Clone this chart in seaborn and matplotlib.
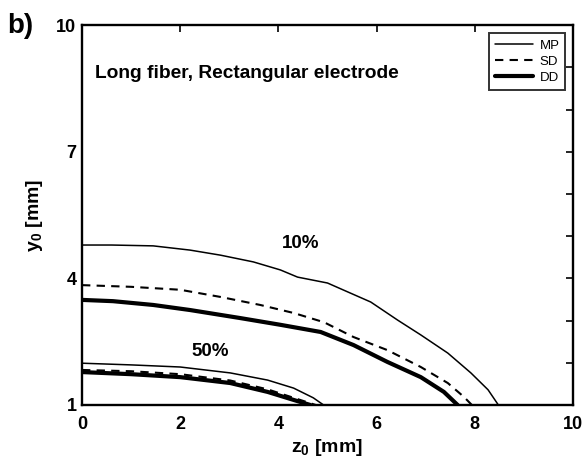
import matplotlib
matplotlib.use("Agg")
import matplotlib.pyplot as plt
import seaborn as sns
import pandas as pd

# 10% iso-contour
mp10_z = [0, 0.6, 1.45, 2.20, 2.82, 3.49, 4.04, 4.39, 5.0, 5.41, 5.88, 6.43, 6.90, 7.45, 7.92, 8.27, 8.48]
mp10_y = [4.79, 4.79, 4.77, 4.67, 4.55, 4.39, 4.20, 4.03, 3.89, 3.68, 3.44, 3.01, 2.66, 2.23, 1.76, 1.36, 1.0]
sd10_z = [0, 1.0, 2.0, 2.82, 3.63, 4.31, 4.93, 5.53, 6.22, 6.90, 7.45, 7.78, 7.94]
sd10_y = [3.84, 3.80, 3.73, 3.56, 3.37, 3.18, 2.96, 2.61, 2.30, 1.90, 1.52, 1.19, 1.0]
dd10_z = [0, 0.63, 1.45, 2.20, 3.22, 4.04, 4.86, 5.53, 6.22, 6.90, 7.37, 7.65]
dd10_y = [3.49, 3.46, 3.37, 3.25, 3.06, 2.90, 2.73, 2.42, 2.02, 1.66, 1.31, 1.0]
# 50% iso-contour
mp50_z = [0, 1.0, 2.0, 3.02, 3.78, 4.31, 4.71, 4.92]
mp50_y = [1.99, 1.95, 1.90, 1.76, 1.59, 1.40, 1.17, 1.0]
sd50_z = [0, 1.0, 2.0, 3.02, 3.78, 4.31, 4.76]
sd50_y = [1.83, 1.80, 1.73, 1.58, 1.37, 1.17, 1.0]
dd50_z = [0, 1.0, 2.0, 3.02, 3.78, 4.31, 4.65]
dd50_y = [1.78, 1.73, 1.66, 1.52, 1.31, 1.12, 1.0]

x_ticks = [0, 2, 4, 6, 8, 10]
y_ticks = [1, 4, 7, 10]

sns.set_style("white")
plt.rcParams['font.family'] = ['Liberation Sans', 'DejaVu Sans']
plt.rcParams['font.weight'] = 'bold'
plt.rcParams['mathtext.fontset'] = 'custom'
plt.rcParams['mathtext.rm'] = 'Liberation Sans:bold'
plt.rcParams['mathtext.bf'] = 'Liberation Sans:bold'
for k in ['text.color', 'axes.labelcolor', 'xtick.color', 'ytick.color', 'axes.edgecolor']:
    plt.rcParams[k] = 'black'

fig = plt.figure(figsize=(5.88, 4.57), dpi=100)
ax = fig.add_axes([0.1395, 0.1138, 0.835, 0.8312])

styles = {
    'MP': dict(color='black', linewidth=1.1, linestyle='-'),
    'SD': dict(color='black', linewidth=1.5, linestyle=(0, (4, 3))),
    'DD': dict(color='black', linewidth=3.0, linestyle='-'),
}
curves = [
    ('MP', mp10_z, mp10_y), ('SD', sd10_z, sd10_y), ('DD', dd10_z, dd10_y),
    ('MP', mp50_z, mp50_y), ('SD', sd50_z, sd50_y), ('DD', dd50_z, dd50_y),
]
handles = {}
for i, (name, z, y) in enumerate(curves):
    df = pd.DataFrame({'z': z, 'y': y})
    sns.lineplot(data=df, x='z', y='y', ax=ax, sort=False, estimator=None, **styles[name])
    if i < 3:
        handles[name] = ax.lines[-1]

ax.set_xlim(0, 10)
ax.set_ylim(1, 10)
ax.set_xticks(x_ticks)
ax.set_yticks(y_ticks)
ax.set_yticks(range(1, 11), minor=True)
ax.tick_params(which='both', direction='in', top=True, right=True, width=1.2, colors='black')
ax.tick_params(which='major', length=5, labelsize=13, pad=4)
ax.tick_params(axis='x', which='major', pad=8)
ax.tick_params(which='minor', length=5)
for lab in ax.get_xticklabels() + ax.get_yticklabels():
    lab.set_fontweight('bold')
for s in ax.spines.values():
    s.set_linewidth(1.7)
    s.set_color('black')

ax.set_xlabel('z$_\\mathrm{0}$ [mm]', fontsize=14, fontweight='bold', labelpad=3, color='black')
ax.set_ylabel('y$_\\mathrm{0}$ [mm]', fontsize=14, fontweight='bold', labelpad=8, color='black')

ax.text(0.27, 8.85, 'Long fiber, Rectangular electrode', fontsize=13.8, fontweight='bold', va='center', color='black')
ax.text(4.45, 4.83, '10%', fontsize=13.5, fontweight='bold', ha='center', va='center', color='black')
ax.text(2.62, 2.26, '50%', fontsize=13.5, fontweight='bold', ha='center', va='center', color='black')

leg = ax.legend([handles['MP'], handles['SD'], handles['DD']], ['MP', 'SD', 'DD'],
                loc='upper right', fontsize=9.5, handlelength=2.9, handletextpad=0.5,
                labelspacing=0.3, borderpad=0.45, frameon=True, fancybox=False,
                bbox_to_anchor=(0.99, 0.985), borderaxespad=0.2)
leg.get_frame().set_edgecolor('black')
leg.get_frame().set_linewidth(1.4)
for t in leg.get_texts():
    t.set_fontweight('normal')
    t.set_color('black')

fig.text(0.012, 0.928, 'b)', fontsize=20, fontweight='bold', color='black')

fig.savefig('out.png', dpi=100)
